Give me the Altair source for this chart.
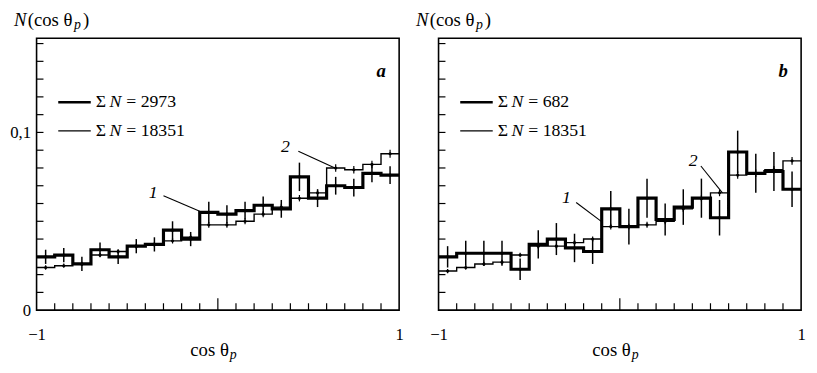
import altair as alt
import pandas as pd

# ---- data ----
bin_edges = [-1.0, -0.9, -0.8, -0.7, -0.6, -0.5, -0.4, -0.3, -0.2, -0.1, 0.0,
             0.1, 0.2, 0.3, 0.4, 0.5, 0.6, 0.7, 0.8, 0.9, 1.0]

# panel a
a_thick = [0.030, 0.031, 0.026, 0.034, 0.030, 0.036, 0.037, 0.045, 0.040, 0.055,
           0.054, 0.056, 0.059, 0.057, 0.075, 0.063, 0.070, 0.069, 0.077, 0.076]
a_thick_err = [0.004, 0.004, 0.004, 0.004, 0.004, 0.004, 0.004, 0.005, 0.004, 0.006,
               0.005, 0.005, 0.005, 0.005, 0.008, 0.005, 0.005, 0.005, 0.005, 0.005]
a_thin = [0.024, 0.025, 0.026, 0.031, 0.033, 0.036, 0.037, 0.039, 0.041, 0.048,
          0.048, 0.050, 0.054, 0.058, 0.063, 0.066, 0.080, 0.079, 0.082, 0.088]
a_thin_err = [0.0012, 0.0012, 0.0012, 0.0013, 0.0013, 0.0014, 0.0014, 0.0015, 0.0015, 0.0016,
              0.0016, 0.0017, 0.0017, 0.0018, 0.0018, 0.0019, 0.0021, 0.0021, 0.0021, 0.0022]

# panel b
b_thick = [0.030, 0.032, 0.032, 0.032, 0.023, 0.037, 0.040, 0.035, 0.033, 0.057,
           0.047, 0.063, 0.051, 0.058, 0.063, 0.052, 0.089, 0.077, 0.078, 0.068]
b_thick_err = [0.006, 0.007, 0.007, 0.007, 0.006, 0.008, 0.009, 0.008, 0.007, 0.010,
               0.010, 0.011, 0.009, 0.010, 0.011, 0.010, 0.012, 0.011, 0.011, 0.010]
b_thin = [0.022, 0.024, 0.026, 0.027, 0.031, 0.036, 0.036, 0.038, 0.040, 0.047,
          0.047, 0.048, 0.050, 0.057, 0.063, 0.066, 0.076, 0.077, 0.079, 0.084]
b_thin_err = [0.0012, 0.0012, 0.0012, 0.0013, 0.0013, 0.0014, 0.0014, 0.0015, 0.0015, 0.0016,
              0.0016, 0.0017, 0.0017, 0.0018, 0.0018, 0.0019, 0.0021, 0.0021, 0.0021, 0.0022]

x_minor_ticks = [-0.9, -0.8, -0.7, -0.6, -0.5, -0.4, -0.3, -0.2, -0.1,
                 0.1, 0.2, 0.3, 0.4, 0.5, 0.6, 0.7, 0.8, 0.9]
x_major_ticks = [0.0]
y_minor_ticks = [0.01, 0.02, 0.03, 0.04, 0.05, 0.06, 0.07, 0.08, 0.09, 0.10,
                 0.11, 0.12, 0.13, 0.14, 0.15]
x_tick_labels = [-1, 0, 1]
y_tick_labels = [0, 0.1]

panel_a_info = {"letter": "a", "n_small": "2973", "n_ref": "18351",
                "label1": (-0.357, 0.066), "lead1": (-0.30, 0.0644, -0.10, 0.0556),
                "label2": (0.373, 0.092), "lead2": (0.444, 0.0894, 0.646, 0.080)}
panel_b_info = {"letter": "b", "n_small": "682", "n_ref": "18351",
                "label1": (-0.295, 0.0628), "lead1": (-0.241, 0.0606, -0.095, 0.0494),
                "label2": (0.404, 0.0839), "lead2": (0.447, 0.0811, 0.566, 0.066)}

W, H = 368, 276
YMAX = 0.153
FONT = "Liberation Serif"

xs = alt.Scale(domain=[-1, 1], nice=False, zero=False)
ys = alt.Scale(domain=[0, YMAX], nice=False, zero=True)


def panel(thick, thick_err, thin, thin_err, info, show_y_labels):
    x_ax = alt.Axis(values=x_tick_labels, format="d", ticks=False, domain=False, grid=False,
                    title=None, labelFontSize=17, labelPadding=17, labelFont=FONT,
                    labelColor="black", labelFlush=False)
    if show_y_labels:
        y_ax = alt.Axis(values=y_tick_labels, ticks=False, domain=False, grid=False, title=None,
                        labelFontSize=17, labelPadding=6, labelFont=FONT, labelColor="black",
                        labelExpr="datum.value == 0 ? '0' : '0,1'",
                        minExtent=27, maxExtent=27)
    else:
        y_ax = alt.Axis(values=y_tick_labels, ticks=False, domain=False, grid=False, title=None,
                        labels=False, minExtent=0, maxExtent=0)

    def step_df(vals):
        return pd.DataFrame({"x": bin_edges, "y": list(vals) + [vals[-1]]})

    def err_df(vals, errs):
        centers = [(bin_edges[i] + bin_edges[i + 1]) / 2 for i in range(len(vals))]
        return pd.DataFrame({"x": centers, "y": [v - e for v, e in zip(vals, errs)],
                             "y2": [v + e for v, e in zip(vals, errs)], "v": vals})

    X = lambda f="x": alt.X(f"{f}:Q", scale=xs, axis=x_ax)
    Y = lambda f="y": alt.Y(f"{f}:Q", scale=ys, axis=y_ax)

    thin_line = alt.Chart(step_df(thin)).mark_line(
        interpolate="step-after", color="black", strokeWidth=1.4).encode(x=X(), y=Y())
    thick_line = alt.Chart(step_df(thick)).mark_line(
        interpolate="step-after", color="black", strokeWidth=3.2).encode(x=X(), y=Y())

    e_thin = err_df(thin, thin_err)
    e_thick = err_df(thick, thick_err)
    thin_err_rules = alt.Chart(e_thin).mark_rule(color="black", strokeWidth=1.2).encode(
        x=X(), y=Y(), y2="y2:Q")
    thick_err_rules = alt.Chart(e_thick).mark_rule(color="black", strokeWidth=1.5).encode(
        x=X(), y=Y(), y2="y2:Q")
    dots = alt.Chart(pd.concat([e_thin, e_thick])).mark_circle(
        color="black", opacity=1, size=10).encode(x=X(), y=Y("v"))

    # inward ticks
    xt = alt.Chart(pd.DataFrame({"x": x_minor_ticks})).mark_rule(
        color="black", strokeWidth=1.2).encode(x=X(), y=alt.value(H), y2=alt.value(H - 7))
    xt0 = alt.Chart(pd.DataFrame({"x": x_major_ticks})).mark_rule(
        color="black", strokeWidth=1.2).encode(x=X(), y=alt.value(H), y2=alt.value(H - 12))
    yt = alt.Chart(pd.DataFrame({"y": y_minor_ticks})).mark_rule(
        color="black", strokeWidth=1.2).encode(y=Y(), x=alt.value(0), x2=alt.value(7))

    # legend
    leg_lines = alt.Chart(pd.DataFrame({"y": [65, 94], "w": [2.6, 1.4]})).mark_rule(
        color="black").encode(x=alt.value(22), x2=alt.value(55), y=alt.Y("y:Q", scale=None),
                              strokeWidth=alt.StrokeWidth("w:Q", scale=None, legend=None))
    leg_sigma = alt.Chart(pd.DataFrame({"y": [65, 94], "t": ["Σ", "Σ"]})).mark_text(
        align="left", baseline="middle", fontSize=18, font=FONT, color="black").encode(
        x=alt.value(60), y=alt.Y("y:Q", scale=None), text="t:N")
    leg_n = alt.Chart(pd.DataFrame({"y": [65, 94], "t": ["N", "N"]})).mark_text(
        align="left", baseline="middle", fontSize=18, font=FONT, fontStyle="italic",
        color="black").encode(x=alt.value(74), y=alt.Y("y:Q", scale=None), text="t:N")
    leg_val = alt.Chart(pd.DataFrame({"y": [65, 94],
                                      "t": ["= " + info["n_small"], "= " + info["n_ref"]]})).mark_text(
        align="left", baseline="middle", fontSize=18, font=FONT, color="black").encode(
        x=alt.value(91), y=alt.Y("y:Q", scale=None), text="t:N")

    letter = alt.Chart(pd.DataFrame({"t": [info["letter"]]})).mark_text(
        align="left", baseline="middle", fontSize=19, font=FONT, fontStyle="italic",
        fontWeight="bold", color="black").encode(x=alt.value(345), y=alt.value(33), text="t:N")

    # curve labels with leader lines
    lab = alt.Chart(pd.DataFrame({"x": [info["label1"][0], info["label2"][0]],
                                  "y": [info["label1"][1], info["label2"][1]],
                                  "t": ["1", "2"]})).mark_text(
        align="center", baseline="middle", fontSize=18, font=FONT, fontStyle="italic",
        color="black").encode(x=X(), y=Y(), text="t:N")
    leads = alt.Chart(pd.DataFrame({"x": [info["lead1"][0], info["lead2"][0]],
                                    "y": [info["lead1"][1], info["lead2"][1]],
                                    "x2": [info["lead1"][2], info["lead2"][2]],
                                    "y2": [info["lead1"][3], info["lead2"][3]]})).mark_rule(
        color="black", strokeWidth=1.1).encode(x=X(), y=Y(), x2="x2:Q", y2="y2:Q")

    # y title above panel: N(cos θp)
    t_n = alt.Chart(pd.DataFrame({"t": ["N"]})).mark_text(
        align="left", baseline="middle", fontSize=19, font=FONT, fontStyle="italic",
        color="black").encode(x=alt.value(-23), y=alt.value(-18), text="t:N")
    t_cos = alt.Chart(pd.DataFrame({"t": ["(cos θ"]})).mark_text(
        align="left", baseline="middle", fontSize=19, font=FONT, color="black").encode(
        x=alt.value(-9), y=alt.value(-18), text="t:N")
    t_p = alt.Chart(pd.DataFrame({"t": ["p"]})).mark_text(
        align="left", baseline="middle", fontSize=14, font=FONT, fontStyle="italic",
        color="black").encode(x=alt.value(38), y=alt.value(-13), text="t:N")
    t_close = alt.Chart(pd.DataFrame({"t": [")"]})).mark_text(
        align="left", baseline="middle", fontSize=19, font=FONT, color="black").encode(
        x=alt.value(47), y=alt.value(-18), text="t:N")

    # x title below: cos θp
    xt_cos = alt.Chart(pd.DataFrame({"t": ["cos θ"]})).mark_text(
        align="left", baseline="middle", fontSize=19, font=FONT, color="black").encode(
        x=alt.value(156), y=alt.value(H + 41), text="t:N")
    xt_p = alt.Chart(pd.DataFrame({"t": ["p"]})).mark_text(
        align="left", baseline="middle", fontSize=14, font=FONT, fontStyle="italic",
        color="black").encode(x=alt.value(196), y=alt.value(H + 46), text="t:N")

    return alt.layer(thick_line, thin_line, thin_err_rules, thick_err_rules, dots,
                     xt, xt0, yt, leg_lines, leg_sigma, leg_n, leg_val, letter, lab, leads,
                     t_n, t_cos, t_p, t_close, xt_cos, xt_p).properties(width=W, height=H)


pa = panel(a_thick, a_thick_err, a_thin, a_thin_err, panel_a_info, True)
pb = panel(b_thick, b_thick_err, b_thin, b_thin_err, panel_b_info, False)

chart = alt.hconcat(pa, pb, spacing=40, bounds="flush", padding=0).configure(
    background="white", view=alt.ViewConfig(stroke="black", strokeWidth=1.6))

chart.save("out.html", embed_options={"renderer": "svg", "actions": False})
